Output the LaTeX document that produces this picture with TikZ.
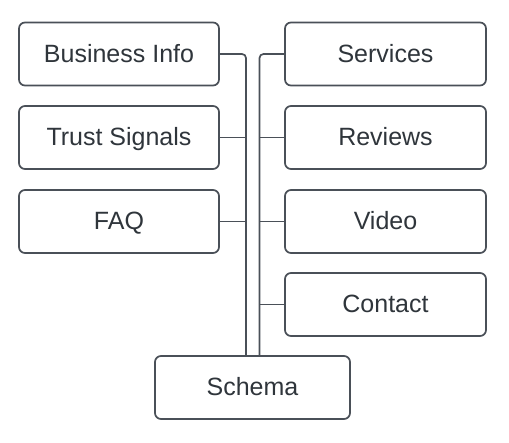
\documentclass[tikz,border=0pt]{standalone}
\usepackage{fontspec}
\setmainfont{Liberation Sans}
\definecolor{lc}{HTML}{4A5058}
\definecolor{tc}{HTML}{2F353B}
\begin{document}
\begin{tikzpicture}[x=1pt,y=1pt,
  box/.style={draw=lc, line width=1.7pt, rounded corners=6pt, minimum width=200pt, minimum height=63pt, inner sep=0pt, text height=17pt, text depth=0pt, text=tc, font=\fontsize{25}{28}\selectfont},
  link/.style={draw=lc, line width=1.7pt}]
\fill[white] (0,0) rectangle (509,443);
\useasboundingbox (0,0) rectangle (509,443);
% left column
\node[box] (bi) at (119,389) {Business Info};
\node[box] (ts) at (119,305.5) {Trust Signals};
\node[box] (faq) at (119,221.5) {FAQ};
% right column
\node[box, minimum width=201pt] (sv) at (385.5,389) {Services};
\node[box, minimum width=201pt] (rv) at (385.5,305.5) {Reviews};
\node[box, minimum width=201pt] (vd) at (385.5,221.5) {Video};
\node[box, minimum width=201pt] (ct) at (385.5,138.5) {Contact};
% schema
\node[box, minimum width=195pt] (sc) at (252.5,55.5) {Schema};
\coordinate (lb) at (246,0);
\coordinate (rb) at (259.5,0);
% trunks
\draw[link, rounded corners=4pt] (bi.east) -| (sc.north -| lb);
\draw[link, rounded corners=4pt] (sv.west) -| (sc.north -| rb);
\draw[link] (ts.east) -- (ts.east -| lb);
\draw[link] (faq.east) -- (faq.east -| lb);
\draw[link] (rv.west) -- (rv.west -| rb);
\draw[link] (vd.west) -- (vd.west -| rb);
\draw[link] (ct.west) -- (ct.west -| rb);
\end{tikzpicture}
\end{document}
